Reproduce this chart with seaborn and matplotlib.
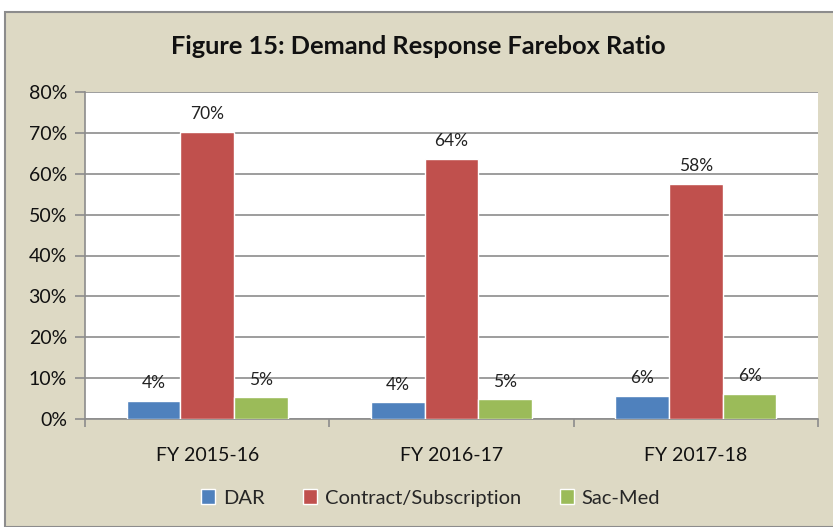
import matplotlib
matplotlib.use("Agg")
import matplotlib.pyplot as plt
import matplotlib.patches as mpatches
from matplotlib.ticker import PercentFormatter, FixedLocator
import seaborn as sns
import pandas as pd

categories = ["FY 2015-16", "FY 2016-17", "FY 2017-18"]
series = ["DAR", "Contract/Subscription", "Sac-Med"]
dar = [0.044, 0.041, 0.057]
contract = [0.702, 0.636, 0.576]
sacmed = [0.053, 0.048, 0.061]
colors = ["#4F81BD", "#C0504D", "#9BBB59"]
title = "Figure 15: Demand Response Farebox Ratio"

rows = []
for name, vals in zip(series, [dar, contract, sacmed]):
    for c, v in zip(categories, vals):
        rows.append({"Year": c, "Series": name, "Value": v})
df = pd.DataFrame(rows)

sns.set_theme(style="white")
plt.rcParams["font.family"] = ["Lato", "DejaVu Sans"]

W, H = 833, 527
fig = plt.figure(figsize=(W / 100, H / 100), dpi=100)
fig.patch.set_facecolor("white")
bg = mpatches.Rectangle((5 / W, 0), 1.0, 1 - 12 / H, transform=fig.transFigure,
                        facecolor="#DDD9C4", edgecolor="#8C8C8C", linewidth=1.5,
                        zorder=-10)
fig.patches.append(bg)

left, right, top, bottom = 85, 818, 92, 419
ax = fig.add_axes([left / W, 1 - bottom / H, (right - left) / W, (bottom - top) / H])
ax.set_facecolor("white")

sns.barplot(data=df, x="Year", y="Value", hue="Series", order=categories,
            hue_order=series, palette=colors, width=0.66, ax=ax,
            edgecolor="white", linewidth=1, saturation=1, legend=True, zorder=3)

for cont in ax.containers:
    ax.bar_label(cont, labels=[f"{v * 100:.0f}%" for v in cont.datavalues],
                 padding=7, fontsize=12.5, color="#222222")

ax.set_ylim(0, 0.8)
ax.set_xlim(-0.5, 2.5)
ax.yaxis.set_major_locator(FixedLocator([i / 10 for i in range(9)]))
ax.yaxis.set_major_formatter(PercentFormatter(1.0, decimals=0))
ax.grid(axis="y", color="#8C8C8C", linewidth=1.2, zorder=0)
ax.set_axisbelow(True)
ax.set_xlabel("")
ax.set_ylabel("")
for s in ["top", "right"]:
    ax.spines[s].set_visible(False)
for s in ["left", "bottom"]:
    ax.spines[s].set_color("#8C8C8C")
    ax.spines[s].set_linewidth(1.2)

ax.tick_params(axis="y", which="major", left=True, length=7, width=1.2,
               color="#8C8C8C", labelsize=14, labelcolor="#111111", pad=6)
ax.tick_params(axis="x", which="major", bottom=False, labelsize=14,
               labelcolor="#111111", pad=14)
ax.set_xticks(range(len(categories)))
ax.set_xticklabels(categories)
ax.set_xticks([-0.5, 0.5, 1.5, 2.5], minor=True)
ax.tick_params(axis="x", which="minor", bottom=True, length=6, width=1.2,
               color="#8C8C8C")

fig.text(0.502, 1 - 47 / H, title, ha="center", va="center", fontsize=18.3,
         fontweight="bold", color="#111111")

leg = ax.get_legend()
handles = [mpatches.Patch(facecolor=c, edgecolor="white", linewidth=1) for c in colors]
leg.remove()
fig.legend(handles, series, loc="center", bbox_to_anchor=(0.517, 1 - 498 / H),
           ncol=3, frameon=False, fontsize=14.5, handlelength=0.7, handleheight=0.7,
           handletextpad=0.4, columnspacing=1.9)

fig.savefig("out.png", dpi=100, facecolor=fig.get_facecolor())
